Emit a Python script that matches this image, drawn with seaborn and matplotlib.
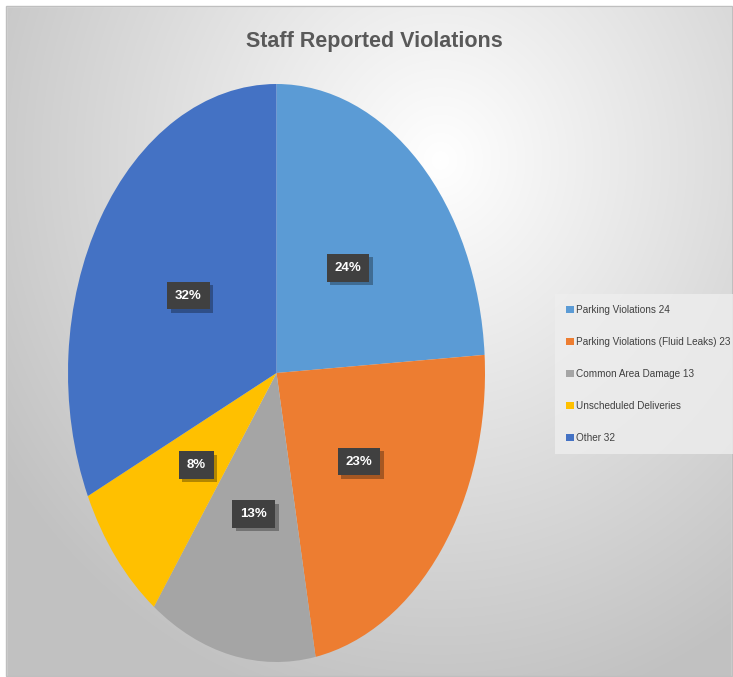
import numpy as np
import matplotlib
matplotlib.use("Agg")
import matplotlib.pyplot as plt
import matplotlib.patheffects as pe
from matplotlib.patches import Rectangle
import seaborn as sns

# data
categories = ["Parking Violations 24", "Parking Violations (Fluid Leaks) 23",
              "Common Area Damage 13", "Unscheduled Deliveries", "Other 32"]
values = [24, 23, 13, 8, 32]
colors = ["#5B9BD5", "#ED7D31", "#A5A5A5", "#FFC000", "#4472C4"]

sns.set_style("white")
plt.rcParams['font.family'] = ['Liberation Sans', 'DejaVu Sans']

W, H = 733, 677
fig = plt.figure(figsize=(W / 100, H / 100), dpi=100)
fig.patch.set_facecolor("white")

# radial gradient background of the chart area
bg = fig.add_axes([0, 0, 1, 1])
yy, xx = np.mgrid[0:H, 0:W]
d = np.sqrt(((xx - 440) / 520.0) ** 2 + ((yy - 160) / 560.0) ** 2)
shade = 1.0 - 0.24 * np.clip(d, 0, 1)
img = np.dstack([shade, shade, shade])
bg.imshow(img, extent=[0, W, H, 0], aspect="auto")
bg.fill_between([0, W], 0, 6, color="white")
bg.fill_between([0, 6], 0, H, color="white")
bg.fill_between([W - 1, W], 0, H, color="white")
bg.add_patch(Rectangle((6, 6), W - 7, H - 7, fill=False, ec="#BFBFBF", lw=1))
bg.set_xlim(0, W)
bg.set_ylim(H, 0)
bg.axis("off")

# pie (stretched ellipse like the original)
ax = fig.add_axes([68 / W, 1 - 662 / H, 417 / W, 578 / H])
wedges, texts, autotexts = ax.pie(values, colors=colors, startangle=90,
                                  counterclock=False, autopct="%1.0f%%",
                                  pctdistance=0.5, wedgeprops=dict(linewidth=0))
ax.set_aspect("auto")
ax.set_xlim(-1, 1)
ax.set_ylim(-1, 1)

# percentage labels in dark boxes with a soft shadow
for t in autotexts:
    t.set_color("white")
    t.set_fontweight("bold")
    t.set_fontsize(9.5)
    t.set_bbox(dict(boxstyle="square,pad=0.6", fc="#404040", ec="none"))
    t.get_bbox_patch().set_path_effects(
        [pe.SimplePatchShadow(offset=(2.5, -2.5), shadow_rgbFace="black", alpha=0.3),
         pe.Normal()])

fig.text(374 / W, 1 - 42 / H, "Staff Reported Violations", ha="center", va="center",
         fontsize=15.5, fontweight="bold", color="#595959")

leg = fig.legend(wedges, categories, loc="upper left",
                 bbox_to_anchor=(555 / W, 1 - 294 / H),
                 frameon=True, fontsize=7.2, handlelength=0.8, handleheight=0.8,
                 labelspacing=2.2, borderpad=1.1, borderaxespad=0,
                 handletextpad=0.25, fancybox=False)
leg.get_frame().set_facecolor("#EEEEEE")
leg.get_frame().set_edgecolor("none")
for t in leg.get_texts():
    t.set_color("#404040")

fig.savefig("out.png", dpi=100)
